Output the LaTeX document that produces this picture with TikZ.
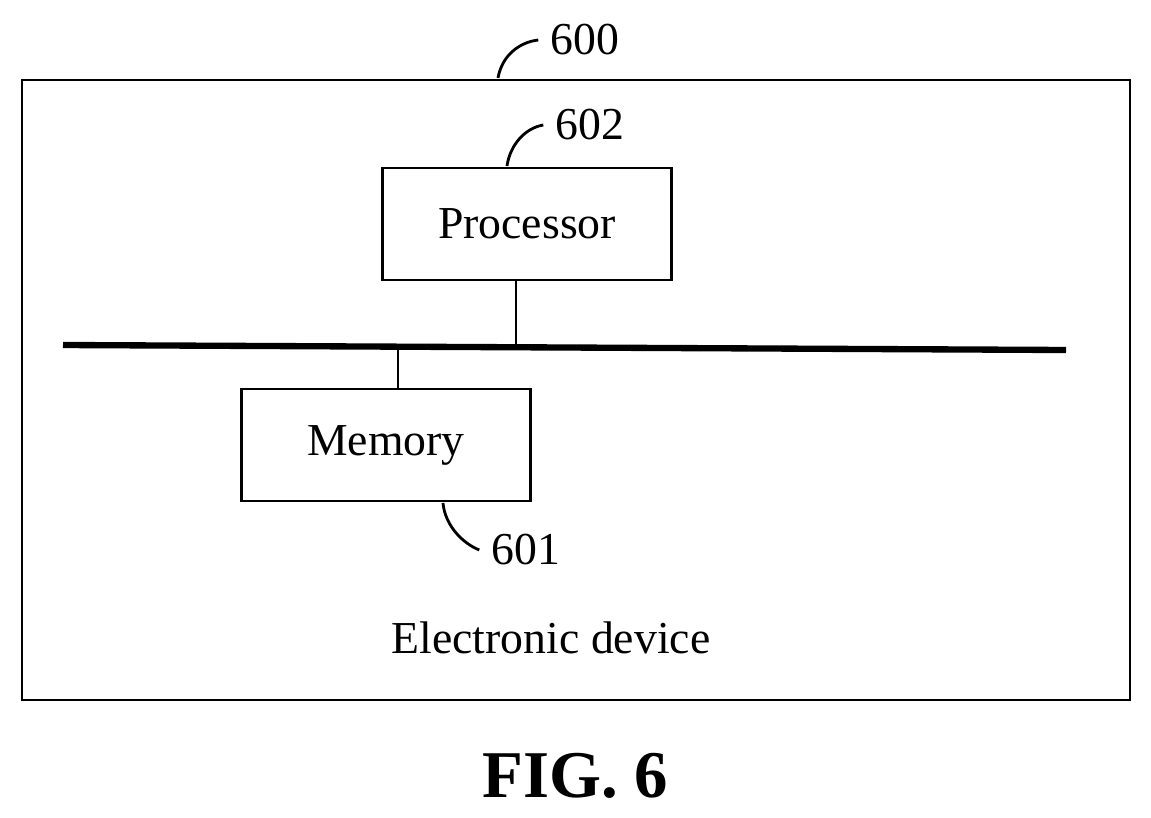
\documentclass[tikz,border=0pt]{standalone}
\usepackage{fontspec}
\setmainfont{Liberation Serif}
\begin{document}
\begin{tikzpicture}[x=0.01cm,y=-0.01cm,
  block/.style={draw,thick,minimum width=2.89cm,minimum height=1.12cm,inner sep=0pt,font=\fontsize{13}{15}\selectfont},
  label/.style={font=\fontsize{13}{15}\selectfont},
  lead/.style={thick}]
      \useasboundingbox (0,0) rectangle (1151,818);
      \draw[thick] (22,80) rectangle (1130,700);

      \node[block] (proc) at (527,224) {Processor};
      \node[block] (mem)  at (386,445) {Memory};

      % bus
      \coordinate (busl) at (63,345);
      \coordinate (busr) at (1066,350);
      \draw[line width=1.8pt] (busl) -- (busr);
      \draw[thick] (proc.south -| 516,0) -- (516,346);
      \draw[thick] (mem.north -| 398,0) -- (398,347);

      % reference numerals
      \node[label] (n600) at (585,40) {600};
      \node[label] (n602) at (590,125) {602};
      \node[label] (n601) at (526,550) {601};
      \draw[lead] (498,78) .. controls (502,55) and (520,42) .. (n600.west);
      \draw[lead] (507,166) .. controls (510,145) and (525,128) .. (n602.west);
      \draw[lead] (443,503) .. controls (445,525) and (462,543) .. (n601.west);

      \node[label] (dev) at (551,638) {Electronic device};
      \node[font=\bfseries\fontsize{19}{22}\selectfont] (fig) at (575,776) {FIG. 6};
    \end{tikzpicture}
\end{document}
